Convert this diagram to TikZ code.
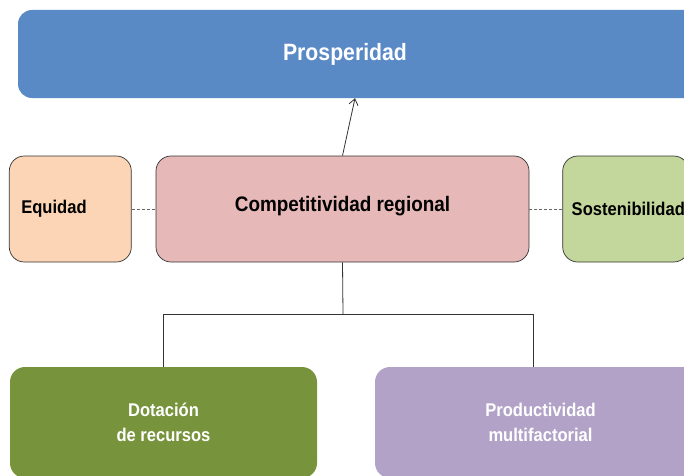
\documentclass[tikz,border=0pt]{standalone}
\usepackage{fontspec}
\setmainfont{Liberation Sans}[FakeStretch=0.9]
\usetikzlibrary{positioning}
\usetikzlibrary{arrows.meta}
\definecolor{azulpros}{HTML}{5A8AC6}
\definecolor{durazno}{HTML}{FBD5B5}
\definecolor{rosacomp}{HTML}{E6B9B8}
\definecolor{verdesost}{HTML}{C3D69B}
\definecolor{verdedot}{HTML}{77933C}
\definecolor{lilaprod}{HTML}{B2A2C7}

\begin{document}
\begin{tikzpicture}[x=1pt, y=1pt,
      caja/.style   ={rectangle, rounded corners=15pt, align=center, font=\bfseries\fontsize{18.4}{25}\selectfont},
      lateral/.style={caja, draw=black!80, line width=0.7pt, minimum height=106pt, align=left},
      base/.style   ={caja, text=white, minimum height=111pt},
      linea/.style  ={black!80, line width=0.8pt},
      punteada/.style={black!60, line width=0.8pt, dash pattern=on 3pt off 2pt},
      node distance=24pt
    ]
    \useasboundingbox (0,0) rectangle (684,475);
    \node [caja, fill=azulpros, rounded corners=14pt, minimum width=682pt, minimum height=88pt,
           label={[xshift=-14pt, text=white, font=\bfseries\fontsize{23.6}{26}\selectfont]center:Prosperidad}]
           (pros) at (359,421) {} ;
    \node [lateral, fill=rosacomp, align=center, minimum width=373pt, font=\bfseries\fontsize{21}{24}\selectfont,
           text depth=10pt] (comp) at (342.5,266) {Competitividad regional} ;
    \node [lateral, fill=durazno, inner xsep=12pt, text width=98pt] (eq) [left=of comp] {Equidad} ;
    \node [lateral, fill=verdesost, inner xsep=9pt, text width=108pt] (sost) [right=33pt of comp] {Sostenibilidad} ;
    \node [base, fill=verdedot, minimum width=307pt] (dot) at (163.5,52.5) {Dotación\\de recursos} ;
    \node [base, fill=lilaprod, minimum width=331pt] (prod) at (540.5,52.5) {Productividad\\multifactorial} ;
    \coordinate (split) at (343,161) ;

    \draw [-{Straight Barb[length=6pt, width=9pt]}, linea] (comp.north) -- ([xshift=-4pt]pros.south) ;
    \draw [punteada] (eq) -- (comp) ;
    \draw [punteada] (comp) -- (sost) ;
    \draw [linea] (comp.south) -- (split) ;
    \draw [linea] (split) -| (dot.north) ;
    \draw [linea] (split) -| ([xshift=-7.5pt]prod.north) ;
  \end{tikzpicture}
\end{document}
